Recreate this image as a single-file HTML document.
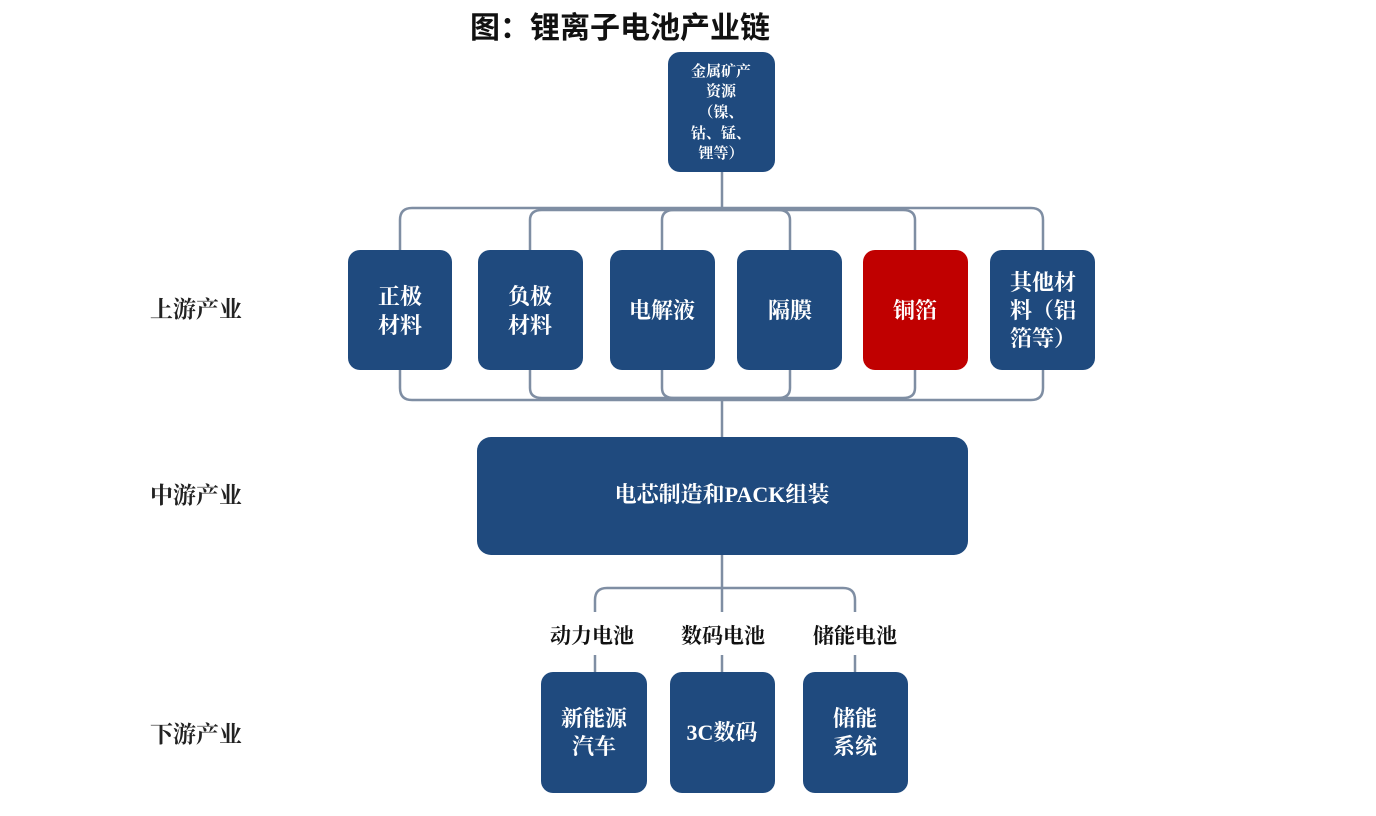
<!DOCTYPE html>
<html><head><meta charset="utf-8"><style>
html,body{margin:0;padding:0;background:#fff;}
svg{display:block;}
text{font-family:"Liberation Serif","Noto Serif CJK SC",serif;font-weight:bold;}
</style></head><body>
<svg width="1376" height="816" viewBox="0 0 1376 816" xmlns="http://www.w3.org/2000/svg">
<text x="620" y="38" font-size="30" text-anchor="middle" fill="#111" style="font-family:'Liberation Sans','Noto Sans CJK SC',sans-serif">图：锂离子电池产业链</text>

<g fill="none" stroke="#7f8ea3" stroke-width="2.5">
<line x1="722" y1="172" x2="722" y2="208"/>
<path d="M400 250 V220 Q400 208 412 208 H1031 Q1043 208 1043 220 V250"/>
<path d="M530 250 V220 Q530 210 542 210 H778 Q790 210 790 220 V250"/>
<path d="M662 250 V220 Q662 210 674 210 H903 Q915 210 915 220 V250"/>
<path d="M400 370 V388 Q400 400 412 400 H1031 Q1043 400 1043 388 V370"/>
<path d="M530 370 V388 Q530 398 542 398 H778 Q790 398 790 388 V370"/>
<path d="M662 370 V388 Q662 398 674 398 H903 Q915 398 915 388 V370"/>
<line x1="722" y1="400" x2="722" y2="437"/>
<line x1="722" y1="555" x2="722" y2="612"/>
<path d="M595 612 V600 Q595 588 607 588 H843 Q855 588 855 600 V612"/>
<line x1="595" y1="655" x2="595" y2="672"/>
<line x1="722" y1="655" x2="722" y2="672"/>
<line x1="855" y1="655" x2="855" y2="672"/>
</g>

<g fill="#1f4a7e">
<rect x="668" y="52" width="107" height="120" rx="12"/>
<rect x="348" y="250" width="104" height="120" rx="12"/>
<rect x="478" y="250" width="105" height="120" rx="12"/>
<rect x="610" y="250" width="105" height="120" rx="12"/>
<rect x="737" y="250" width="105" height="120" rx="12"/>
<rect x="863" y="250" width="105" height="120" rx="12" fill="#c00000"/>
<rect x="990" y="250" width="105" height="120" rx="12"/>
<rect x="477" y="437" width="491" height="118" rx="14"/>
<rect x="541" y="672" width="106" height="121" rx="12"/>
<rect x="670" y="672" width="105" height="121" rx="12"/>
<rect x="803" y="672" width="105" height="121" rx="12"/>
</g>

<g fill="#fff" text-anchor="middle">
<g font-size="15">
<text x="721" y="76">金属矿产</text>
<text x="721" y="96">资源</text>
<text x="721" y="117">（镍、</text>
<text x="721" y="138">钴、锰、</text>
<text x="721" y="158">锂等）</text>
</g>
<g font-size="22">
<text x="400" y="304">正极</text><text x="400" y="333">材料</text>
<text x="530" y="304">负极</text><text x="530" y="333">材料</text>
<text x="662" y="318">电解液</text>
<text x="790" y="318">隔膜</text>
<text x="915" y="318">铜箔</text>
<text x="1043" y="290">其他材</text><text x="1043" y="318">料（铝</text><text x="1043" y="346">箔等）</text>
<text x="722" y="502">电芯制造和PACK组装</text>
<text x="594" y="726">新能源</text><text x="594" y="754">汽车</text>
<text x="722" y="740">3C数码</text>
<text x="855" y="726">储能</text><text x="855" y="754">系统</text>
</g>
</g>

<g fill="#111" font-size="21" text-anchor="middle">
<text x="592" y="643">动力电池</text>
<text x="723" y="643">数码电池</text>
<text x="855" y="643">储能电池</text>
</g>
<g fill="#222" font-size="23">
<text x="150" y="317">上游产业</text>
<text x="150" y="503">中游产业</text>
<text x="150" y="742">下游产业</text>
</g>
</svg>
</body></html>
